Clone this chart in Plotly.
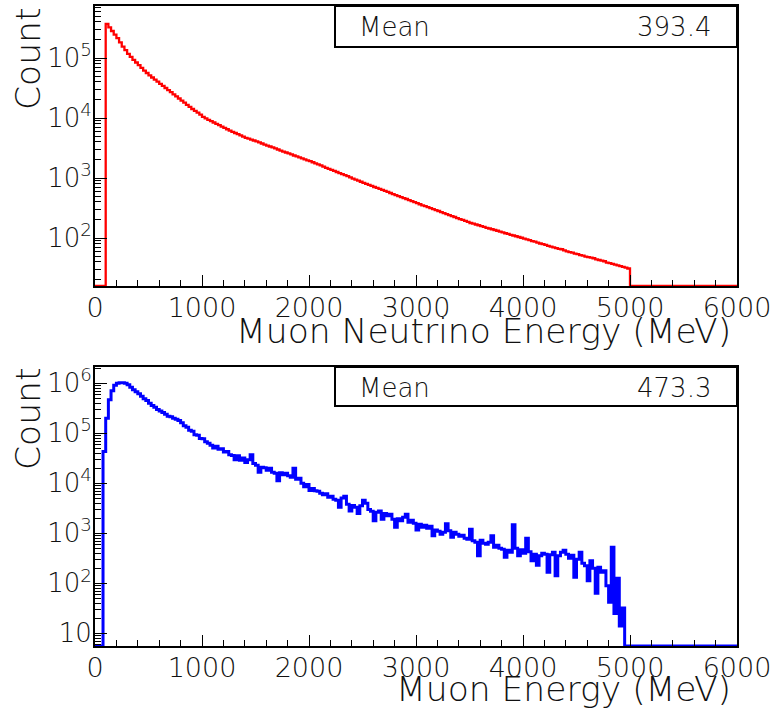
import numpy as np
import plotly.graph_objects as go

# ---------------- data ----------------
# Muon neutrino energy histogram: 25 MeV bins, first filled bin starts at 100 MeV
nu_bin_width = 25
nu_first_edge = 100
nu_counts = [
    371500, 323600, 281800, 245500, 213800, 182000, 154900, 134900, 117500, 104700,
    93330, 84140, 75860, 68390, 61660, 56230, 51290, 47320, 43650, 40270,
    37150, 34270, 31620, 29180, 26920, 24830, 22910, 21140, 19500, 17990,
    16600, 15320, 14130, 13180, 12300, 11350, 10470, 9885, 9333, 8862,
    8414, 7989, 7586, 7203, 6839, 6494, 6166, 5888, 5623, 5370,
    5129, 4898, 4677, 4518, 4365, 4217, 4074, 3913, 3758, 3610,
    3467, 3350, 3236, 3108, 2985, 2867, 2754, 2660, 2570, 2468,
    2371, 2291, 2213, 2126, 2042, 1972, 1905, 1830, 1758, 1689,
    1622, 1549, 1479, 1421, 1365, 1311, 1259, 1209, 1161, 1116,
    1072, 1023, 977, 939, 902, 866, 832, 799, 767, 737,
    708, 684, 661, 635, 610, 586, 562, 540, 519, 499,
    479, 463, 447, 429, 412, 396, 380, 365, 351, 339,
    327, 314, 302, 292, 282, 271, 260, 250, 240, 232,
    224, 215, 207, 200, 193, 185, 178, 173, 168, 163,
    158, 153, 148, 144, 140, 136, 132, 128, 124, 120,
    117, 113, 110, 107, 104, 101, 98, 95, 92, 89,
    87, 84, 81, 79, 77, 74, 72, 70, 68, 66,
    65, 62, 60, 58, 57, 55, 54, 52, 51, 49,
    48, 47, 46, 44, 43, 42, 41, 39, 38, 37,
    36, 35, 34, 33, 32, 31,
]
nu_mean = 393.4

# Muon energy histogram: 25 MeV bins, first filled bin starts at 75 MeV
mu_bin_width = 25
mu_first_edge = 75
mu_counts = [
    4.3e4, 2.0e5, 4.7e5, 7.1e5, 9.1e5, 1.0e6, 1.02e6, 1.02e6, 1.0e6, 9.3e5,
    8.3e5, 7.4e5, 6.8e5, 6.2e5, 5.5e5, 4.9e5, 4.5e5, 4.0e5, 3.6e5, 3.3e5,
    3.0e5, 2.8e5, 2.6e5, 2.4e5, 2.2e5, 2.15e5, 2.0e5, 1.9e5, 1.8e5, 1.62e5,
    1.41e5, 1.32e5, 1.15e5, 1.10e5, 9.3e4, 9.1e4, 7.9e4, 7.8e4, 6.8e4, 6.3e4,
    5.75e4, 5.1e4, 5.5e4, 4.8e4, 4.9e4, 4.2e4, 4.3e4, 3.7e4, 3.6e4, 2.95e4,
    3.55e4, 2.9e4, 3.2e4, 2.6e4, 2.95e4, 3.7e4, 2.5e4, 2.3e4, 1.66e4, 2.1e4,
    2.05e4, 1.82e4, 2.0e4, 1.66e4, 1.58e4, 1.12e4, 1.62e4, 1.48e4, 1.58e4, 1.41e4,
    1.32e4, 2.0e4, 1.2e4, 1.26e4, 1.0e4, 8.5e3, 9.5e3, 7.2e3, 7.9e3, 7.1e3,
    6.9e3, 6.3e3, 5.9e3, 6.2e3, 5.25e3, 5.5e3, 4.8e3, 4.6e3, 3.3e3, 5.1e3,
    5.5e3, 3.8e3, 2.8e3, 3.6e3, 3.3e3, 2.5e3, 3.55e3, 4.6e3, 4.0e3, 3.0e3,
    2.75e3, 1.78e3, 2.63e3, 2.8e3, 1.9e3, 2.5e3, 2.24e3, 2.4e3, 1.9e3, 1.32e3,
    1.95e3, 1.78e3, 2.09e3, 2.4e3, 1.66e3, 1.82e3, 1.58e3, 1.17e3, 1.51e3, 1.32e3,
    1.45e3, 1.26e3, 1.38e3, 891, 1.17e3, 1.1e3, 955, 1.05e3, 1.55e3, 1.12e3,
    832, 1.05e3, 955, 871, 912, 794, 759, 1.2e3, 708, 661,
    355, 724, 631, 603, 661, 891, 525, 575, 501, 479,
    331, 457, 417, 1.48e3, 501, 355, 468, 398, 794, 427,
    282, 380, 229, 355, 398, 380, 166, 372, 417, 141,
    355, 417, 457, 380, 316, 363, 132, 302, 417, 251,
    224, 112, 282, 200, 63, 209, 166, 178, 89, 42,
    525, 25, 126, 14, 32,
]
mu_mean = 473.3

x_max = 6000
x_tick_vals = [0, 1000, 2000, 3000, 4000, 5000, 6000]
x_title_top = "Muon Neutrino Energy (MeV)"
x_title_bottom = "Muon Energy (MeV)"
y_title = "Count"

# ---------------- layout constants ----------------
W, H = 776, 712
TOP_LOG_RANGE = [1.2, 5.867]
BOT_LOG_RANGE = [0.747, 6.325]
FONT = "DejaVu Sans"


def full_hist(counts, width, first_edge, floor):
    """Histogram outline over 0..x_max, empty bins drawn at the frame bottom."""
    n_before = int(first_edge // width)
    n_total = int(x_max // width)
    vals = [floor] * n_before + list(counts)
    vals += [floor] * (n_total - len(vals))
    edges = np.arange(0, x_max + width, width)
    y = vals + [vals[-1]]
    return edges, y


nu_x, nu_y = full_hist(nu_counts, nu_bin_width, nu_first_edge, 10 ** TOP_LOG_RANGE[0])
mu_x, mu_y = full_hist(mu_counts, mu_bin_width, mu_first_edge, 10 ** BOT_LOG_RANGE[0])

fig = go.Figure()
fig.add_trace(go.Scatter(x=nu_x, y=nu_y, mode="lines", line=dict(color="#ff0000", width=2.3, shape="hv"),
                         xaxis="x", yaxis="y", showlegend=False, hoverinfo="skip"))
fig.add_trace(go.Scatter(x=mu_x, y=mu_y, mode="lines", line=dict(color="#0000ff", width=3, shape="hv"),
                         xaxis="x2", yaxis="y2", showlegend=False, hoverinfo="skip"))


def px(x):
    return x / W


def py(y):
    return 1 - y / H


x_dom = [px(95), px(737)]


def xaxis(anchor):
    return dict(domain=x_dom, anchor=anchor, range=[0, x_max], showgrid=False, zeroline=False,
                automargin=False,
                showline=True, linecolor="black", linewidth=2, mirror=True,
                ticks="inside", ticklen=11, tickwidth=1, tickcolor="black",
                tickmode="array", tickvals=x_tick_vals, ticktext=[str(v) for v in x_tick_vals],
                ticklabelstandoff=-3,
                minor=dict(ticks="inside", ticklen=6, tickwidth=1, tickcolor="black", dtick=200),
                tickfont=dict(family=FONT, size=27, color="#111", weight=300))


def yaxis(anchor, dom, rng):
    lo, hi = int(np.floor(rng[0])), int(np.ceil(rng[1]))
    majors = [10 ** k for k in range(lo, hi + 1)]
    labels = ["10" if k == 1 else "10<sup>%d</sup>" % k for k in range(lo, hi + 1)]
    minors = [m * 10 ** k for k in range(lo - 1, hi + 1) for m in range(2, 10)]
    return dict(domain=dom, anchor=anchor, type="log", range=rng, showgrid=False, zeroline=False,
                automargin=False,
                showline=True, linecolor="black", linewidth=2, mirror=True,
                ticks="inside", ticklen=12, tickwidth=1, tickcolor="black",
                tickmode="array", tickvals=majors, ticktext=labels,
                ticklabelstandoff=-4,
                minor=dict(ticks="inside", ticklen=6, tickwidth=1, tickcolor="black",
                           tickmode="array", tickvals=minors),
                tickfont=dict(family=FONT, size=26, color="#111", weight=300))


title_font = dict(family=FONT, size=34.5, color="#111", weight=300)
stat_font = dict(family=FONT, size=26, color="#111", weight=300)

annotations = [
    dict(text=x_title_top, x=px(733), y=py(331), xref="paper", yref="paper",
         xanchor="right", yanchor="middle", showarrow=False, font=title_font),
    dict(text=x_title_bottom, x=px(733), y=py(689), xref="paper", yref="paper",
         xanchor="right", yanchor="middle", showarrow=False, font=title_font),
    dict(text=y_title, x=px(28), y=py(6), xref="paper", yref="paper", textangle=-90,
         xanchor="center", yanchor="top", showarrow=False, font=title_font),
    dict(text=y_title, x=px(28), y=py(366), xref="paper", yref="paper", textangle=-90,
         xanchor="center", yanchor="top", showarrow=False, font=title_font),
    dict(text="Mean", x=px(357), y=py(27), xref="paper", yref="paper",
         xanchor="left", yanchor="middle", showarrow=False, font=stat_font),
    dict(text="%.1f" % nu_mean, x=px(713), y=py(27), xref="paper", yref="paper",
         xanchor="right", yanchor="middle", showarrow=False, font=stat_font),
    dict(text="Mean", x=px(357), y=py(388), xref="paper", yref="paper",
         xanchor="left", yanchor="middle", showarrow=False, font=stat_font),
    dict(text="%.1f" % mu_mean, x=px(713), y=py(388), xref="paper", yref="paper",
         xanchor="right", yanchor="middle", showarrow=False, font=stat_font),
]

shapes = [
    dict(type="rect", xref="paper", yref="paper", x0=px(335), x1=px(737), y0=py(47), y1=py(6),
         line=dict(color="black", width=2), fillcolor="white", layer="above"),
    dict(type="rect", xref="paper", yref="paper", x0=px(335), x1=px(737), y0=py(406), y1=py(367),
         line=dict(color="black", width=2), fillcolor="white", layer="above"),
]

fig.update_layout(
    width=W, height=H, autosize=False,
    margin=dict(l=0, r=0, t=0, b=0),
    paper_bgcolor="white", plot_bgcolor="white",
    xaxis=xaxis("y"),
    yaxis=yaxis("x", [py(286), py(6)], TOP_LOG_RANGE),
    xaxis2=xaxis("y2"),
    yaxis2=yaxis("x2", [py(646), py(367)], BOT_LOG_RANGE),
    annotations=annotations,
    shapes=shapes,
    showlegend=False,
)

fig.write_html(
    "out.html",
    config={"displayModeBar": False},
    post_script="document.body.style.margin='0';document.body.style.overflow='hidden';",
)
